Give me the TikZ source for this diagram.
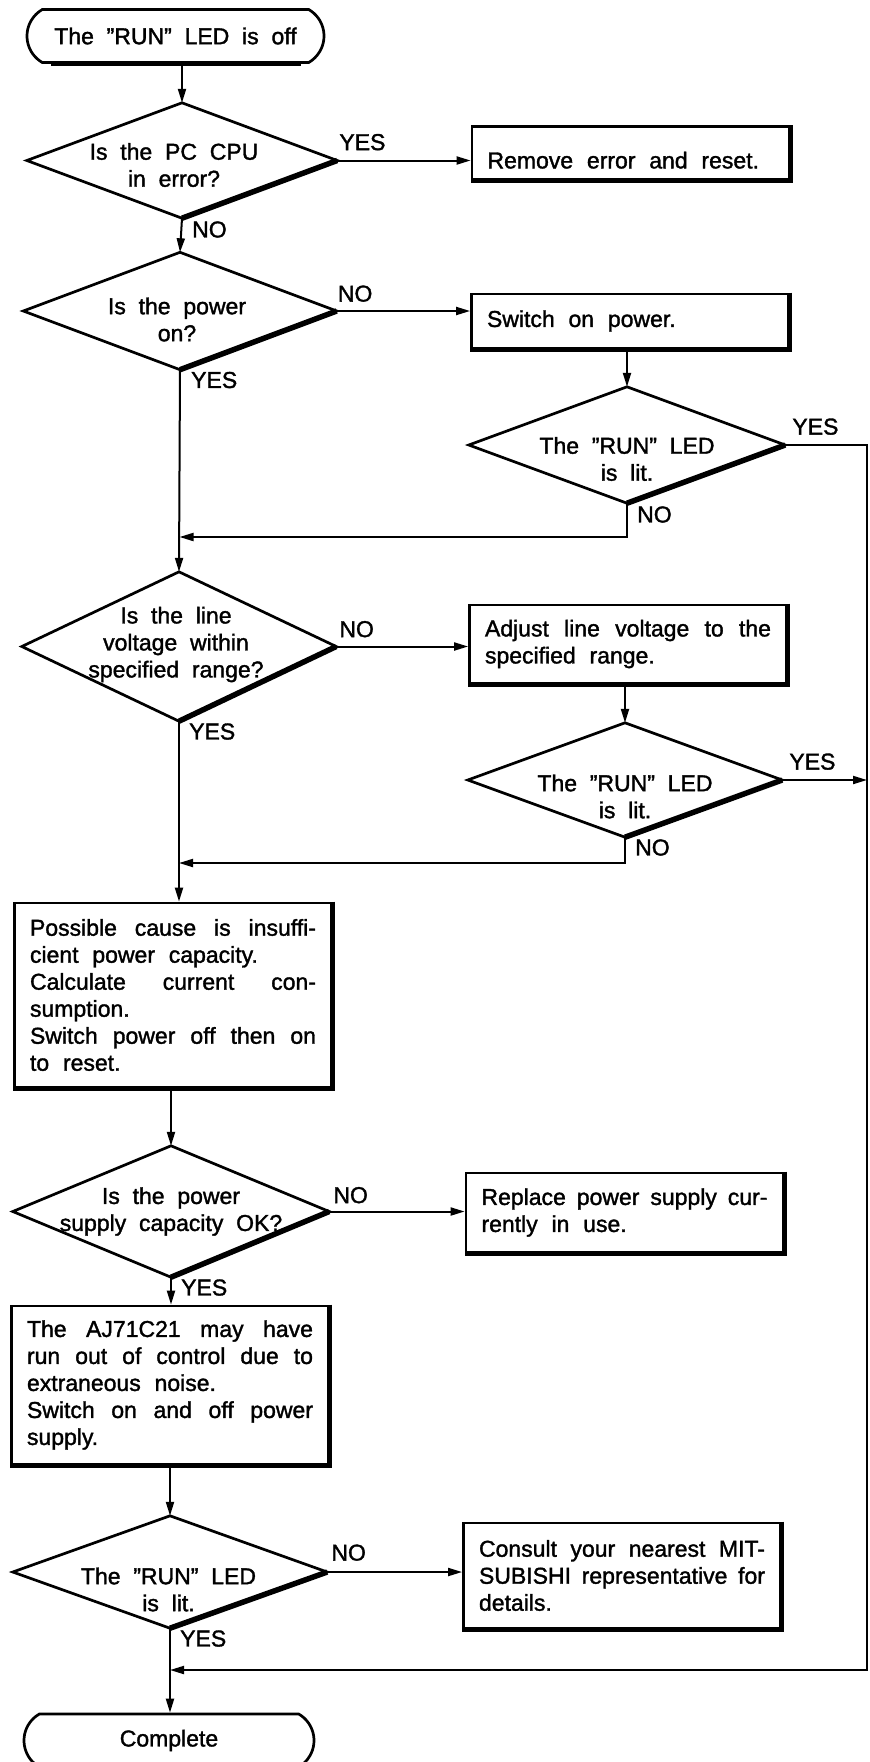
\documentclass[tikz,border=0pt]{standalone}
\usepackage{fontspec}
\setmainfont{Liberation Sans}[WordSpace=2,FakeBold=1.5]
\usetikzlibrary{arrows.meta,shapes.misc}
% a justified line of a box text, spread over the full text width
\newcommand\fullline[1]{\makebox[286pt][s]{#1}}
\begin{document}
\begin{tikzpicture}[x=1pt,y=-1pt,
  font=\fontsize{23}{27}\selectfont,
  conn/.style={line width=2pt},
  arr/.style={conn,-{Triangle[length=14pt,width=8pt]}},
  term/.style={rounded rectangle,rounded rectangle arc length=120,draw,line width=2.7pt,
               minimum height=53pt,inner sep=0pt},
  decision/.style={rectangle,inner sep=0pt},
  dtext/.style={align=center,inner sep=0pt},
  stepbox/.style={rectangle,draw,line width=2.8pt,inner xsep=15.5pt,inner ysep=0pt,
                  text width=286pt,align=left,
                  execute at begin node={\spaceskip=0.6em plus 0.6em minus 0.2em\relax}},
  rlab/.style={anchor=south west,inner sep=0pt},
  blab/.style={anchor=north west,inner sep=0pt},
]
\useasboundingbox (0,0) rectangle (870,1762);
\clip (0,0) rectangle (870,1762);

% terminals
\node[term,minimum width=297pt] (start) at (175.5,36) {The ”RUN” LED is off};
\node[term,minimum width=290pt] (end) at (169,1740.5) {Complete};

% decisions: the node is the bounding box of the diamond, text set separately
\node[decision,minimum width=310pt,minimum height=115pt] (d1) at (182,160.5) {};
\node[decision,minimum width=313pt,minimum height=117pt] (d2) at (180,311) {};
\node[decision,minimum width=316pt,minimum height=116pt] (d3) at (627,445) {};
\node[decision,minimum width=314pt,minimum height=149pt] (d4) at (179,646.5) {};
\node[decision,minimum width=314pt,minimum height=114pt] (d5) at (625,780) {};
\node[decision,minimum width=316pt,minimum height=131pt] (d6) at (171,1211.5) {};
\node[decision,minimum width=314pt,minimum height=112pt] (d7) at (170,1572) {};

\node[dtext] (d1t) at ([xshift=-8pt,yshift=-4.5pt]d1.center) {Is the PC CPU\\in error?};
\node[dtext] (d2t) at ([xshift=-3pt,yshift=-8.5pt]d2.center) {Is the power\\on?};
\node[dtext] (d3t) at ([yshift=-14pt]d3.center) {The ”RUN” LED\\is lit.};
\node[dtext] (d4t) at ([xshift=-3pt,yshift=2pt]d4.center) {Is the line\\voltage within\\specified range?};
\node[dtext] (d5t) at ([yshift=-16.5pt]d5.center) {The ”RUN” LED\\is lit.};
\node[dtext] (d6t) at (d6.center) {Is the power\\supply capacity OK?};
\node[dtext] (d7t) at ([xshift=-1.5pt,yshift=-17.5pt]d7.center) {The ”RUN” LED\\is lit.};

\foreach \n in {d1,d2,d3,d4,d5,d6,d7} {
  \draw[line width=2.7pt,line join=miter] (\n.north) -- (\n.east) -- (\n.south) -- (\n.west) -- cycle;
  \draw[line width=5.5pt] (\n.east) -- (\n.south);
}

% process boxes
\node[stepbox,minimum height=53pt,text height=31pt] (box1) at (630.5,153) {Remove error and reset.};
\node[stepbox,minimum height=54pt] (box2) at (630,321) {Switch on power.};
\node[stepbox,minimum height=78pt] (box3) at (628,644)
  {\fullline{Adjust line voltage to the}\\specified range.};
\node[stepbox,minimum height=184pt] (box4) at (173,995)
  {\fullline{Possible cause is insuffi-}\\cient power capacity.\\
   \fullline{Calculate current con-}\\sumption.\\
   \fullline{Switch power off then on}\\to reset.};
\node[stepbox,minimum height=79pt] (box5) at (624.5,1212.5)
  {\fullline{Replace power supply cur-}\\rently in use.};
\node[stepbox,minimum height=158pt] (box6) at (170,1385)
  {\fullline{The AJ71C21 may have}\\\fullline{run out of control due to}\\extraneous noise.\\
   \fullline{Switch on and off power}\\supply.};
\node[stepbox,minimum height=105pt] (box7) at (622,1575.5)
  {\fullline{Consult your nearest MIT-}\\\fullline{SUBISHI representative for}\\details.};

\foreach \n in {box1,box2,box3,box4,box5,box6,box7} {
  \draw[line width=4.5pt,line join=miter] (\n.north east) -- (\n.south east) -- (\n.south west);
}
\foreach \n in {start,end} {
  \draw[line width=3.6pt] ([xshift=-125pt]\n.south) -- ([xshift=125pt]\n.south);
}

% junction points on the main line and the return line on the right
\coordinate (j1) at (179.5,537);
\coordinate (j2) at (179,863);
\coordinate (rc) at (867,1670);
\coordinate (j3) at (170,1670);

% main column
\draw[arr] (d1.north |- start.south) -- (d1.north);
\draw[arr] (d1.south) -- (d2.north);
\draw[arr] (d2.south) -- (d4.north);
\draw[arr] (d4.south) -- (d4.south |- box4.north);
\draw[arr] (d6.north |- box4.south) -- (d6.north);
\draw[arr] (d6.south) -- (d6.south |- box6.north);
\draw[arr] (d7.north |- box6.south) -- (d7.north);
\draw[arr] (d7.south) -- (d7.south |- end.north);

% branches to the right
\draw[arr] (d1.east) -- (d1.east -| box1.west);
\draw[arr] (d2.east) -- (d2.east -| box2.west);
\draw[arr] (d4.east) -- (d4.east -| box3.west);
\draw[arr] (d6.east) -- (d6.east -| box5.west);
\draw[arr] (d7.east) -- (d7.east -| box7.west);
\draw[arr] (box2.south -| d3.north) -- (d3.north);
\draw[arr] (box3.south -| d5.north) -- (d5.north);

% returns
\draw[arr] (d3.south) |- (j1);
\draw[arr] (d5.south) |- (j2);
\draw[arr] (d3.east) -| (rc) -- (j3);
\draw[arr] (d5.east) -- (d5.east -| rc);

% branch labels
\node[rlab] (y1) at ([xshift=2pt,yshift=10pt]d1.east) {YES};
\node[blab] (n1) at ([xshift=10pt,yshift=-3pt]d1.south) {NO};
\node[rlab] (n2) at ([xshift=1pt,yshift=9pt]d2.east) {NO};
\node[blab] (y2) at ([xshift=11pt,yshift=-2pt]d2.south) {YES};
\node[rlab] (y3) at ([xshift=7pt,yshift=10pt]d3.east) {YES};
\node[blab] (n3) at ([xshift=10pt,yshift=-3pt]d3.south) {NO};
\node[rlab] (n4) at ([xshift=3pt,yshift=9pt]d4.east) {NO};
\node[blab] (y4) at ([xshift=10pt,yshift=-2pt]d4.south) {YES};
\node[rlab] (y5) at ([xshift=7pt,yshift=10pt]d5.east) {YES};
\node[blab] (n5) at ([xshift=10pt,yshift=-2pt]d5.south) {NO};
\node[rlab] (n6) at ([xshift=4pt,yshift=8pt]d6.east) {NO};
\node[blab] (y6) at ([xshift=10pt,yshift=-2pt]d6.south) {YES};
\node[rlab] (n7) at ([xshift=4pt,yshift=11pt]d7.east) {NO};
\node[blab] (y7) at ([xshift=10pt,yshift=-2pt]d7.south) {YES};
\end{tikzpicture}
\end{document}
